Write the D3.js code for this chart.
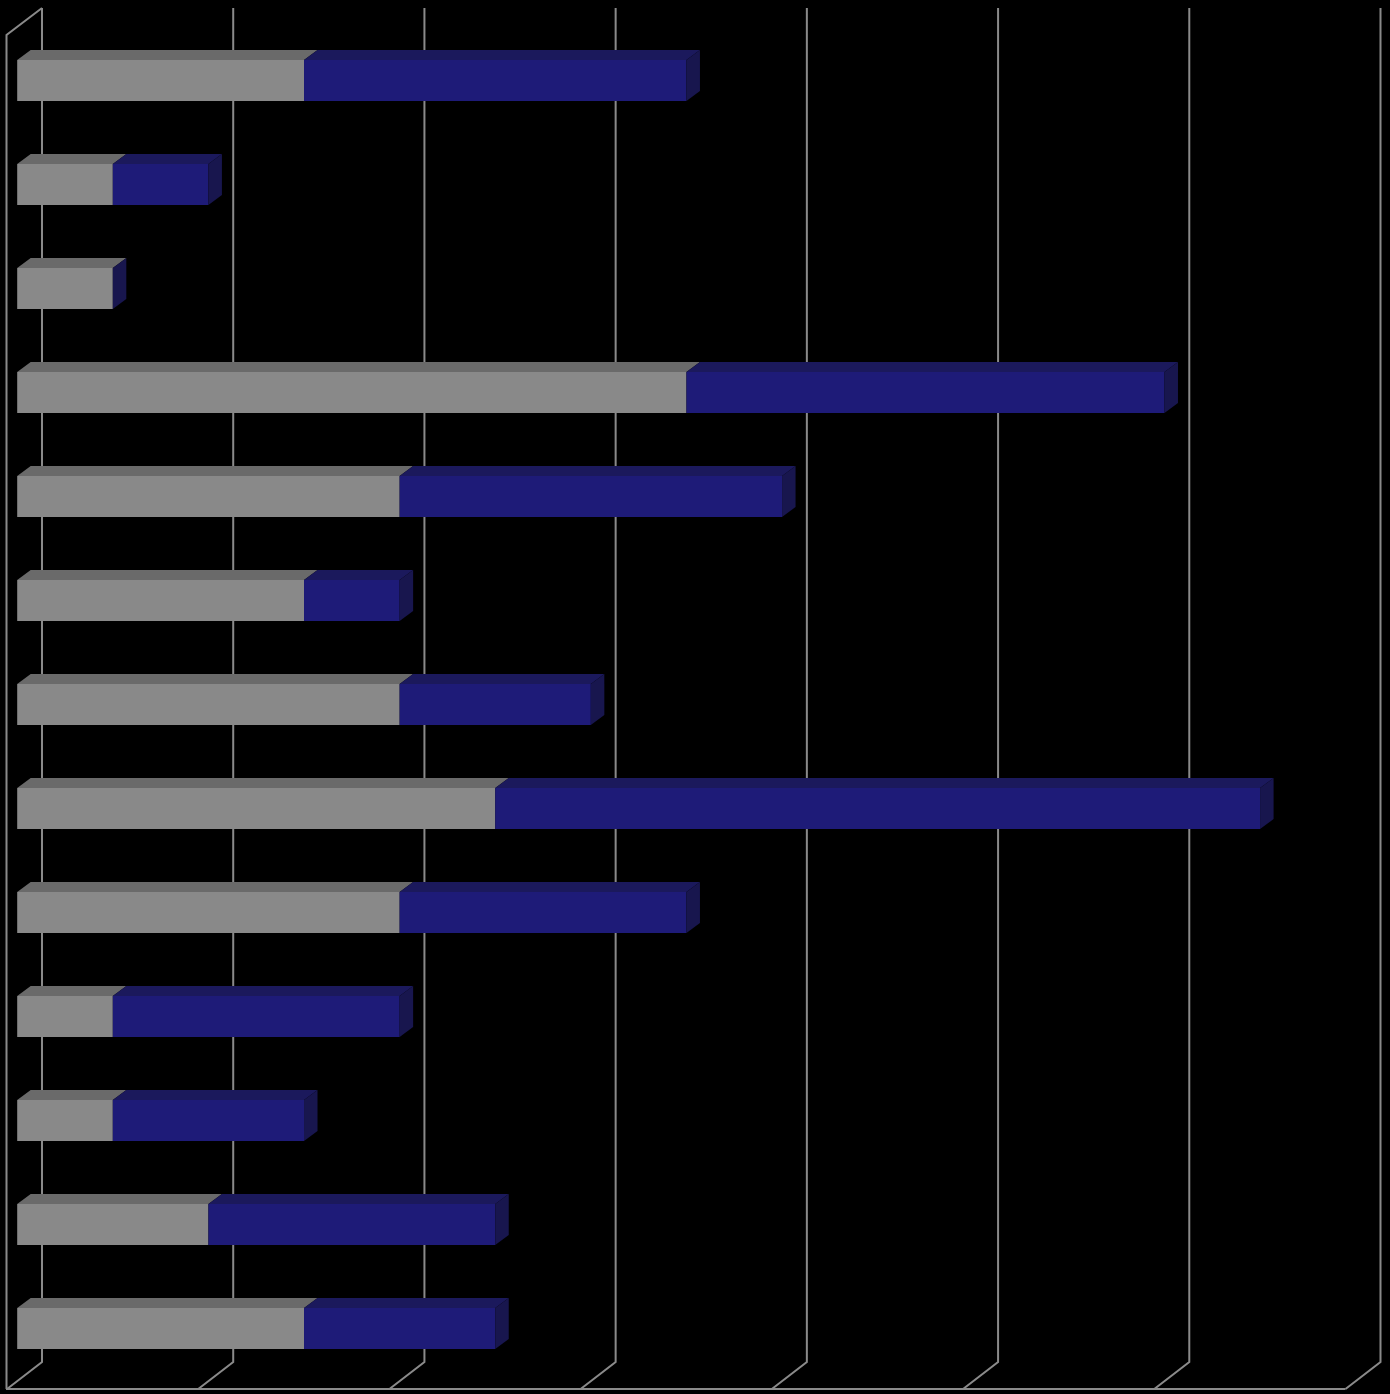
<!DOCTYPE html>
<html><head><meta charset="utf-8">
<script src="https://cdn.jsdelivr.net/npm/d3@7"></script>
<style>html,body{margin:0;padding:0;background:#000;}svg{display:block;}</style>
</head><body>
<svg id="c" width="1390" height="1394"></svg>
<script>
const categories = ["1","2","3","4","5","6","7","8","9","10","11","12","13"];
const seriesGray = [3,1,1,7,4,3,4,5,4,1,1,2,3];
const seriesBlue = [4,1,0,5,4,1,2,8,3,3,2,3,2];
const ticks = [0,2,4,6,8,10,12,14];

const svg = d3.select("#c");
svg.append("rect").attr("width",1390).attr("height",1394).attr("fill","#000");

const x = d3.scaleLinear().domain([0,14]).range([0,1338.5]);
const y = d3.scaleBand().domain(categories).range([28.5,1380.5]).paddingInner(63/104).paddingOuter(63/208);

const backX0 = 42, backTop = 8, backBottom = 1362;
const wallDX = 36, wallDY = 27;
const frontX0 = 17.2, bdx = 13.5, bdy = 10;
const gridColor = "#8a8a8a";

const g = svg.append("g");
// left wall
g.append("path").attr("d",`M${backX0-wallDX+0.5},${backBottom+wallDY} L${backX0-wallDX+0.5},${backTop+wallDY} L${backX0},${backTop}`)
  .attr("fill","none").attr("stroke",gridColor).attr("stroke-width",2);
// gridlines
ticks.forEach(t=>{
  const bx = backX0 + x(t);
  g.append("path").attr("d",`M${bx},${backTop} L${bx},${backBottom} L${bx-wallDX+1},${backBottom+wallDY}`)
    .attr("fill","none").attr("stroke",gridColor).attr("stroke-width",2);
});
// floor front line
g.append("line").attr("x1",backX0-wallDX).attr("x2",backX0+x(14)-wallDX+1)
  .attr("y1",backBottom+wallDY).attr("y2",backBottom+wallDY).attr("stroke",gridColor).attr("stroke-width",2);

const cols = {
  gray:{front:"#898989",top:"#6a6a6a"},
  blue:{front:"#1e1b78",top:"#1b195c",side:"#18164e"}
};
function poly(pts){return "M"+pts.map(p=>p.join(",")).join("L")+"Z";}

categories.forEach((c,i)=>{
  const yt = y(c), h = y.bandwidth();
  const segs = [
    {a:0,b:seriesGray[i],col:cols.gray},
    {a:seriesGray[i],b:seriesGray[i]+seriesBlue[i],col:cols.blue}
  ];
  segs.forEach(s=>{
    const x0 = frontX0 + x(s.a), x1 = frontX0 + x(s.b);
    if (x1 > x0) {
      g.append("path").attr("d",poly([[x0,yt],[x0+bdx,yt-bdy],[x1+bdx,yt-bdy],[x1,yt]])).attr("fill",s.col.top);
      g.append("rect").attr("x",x0).attr("y",yt).attr("width",x1-x0).attr("height",h).attr("fill",s.col.front);
    }
  });
  const xe = frontX0 + x(seriesGray[i]+seriesBlue[i]);
  g.append("path").attr("d",poly([[xe,yt],[xe+bdx,yt-bdy],[xe+bdx,yt+h-bdy],[xe,yt+h]])).attr("fill",cols.blue.side);
});
</script>
</body></html>
